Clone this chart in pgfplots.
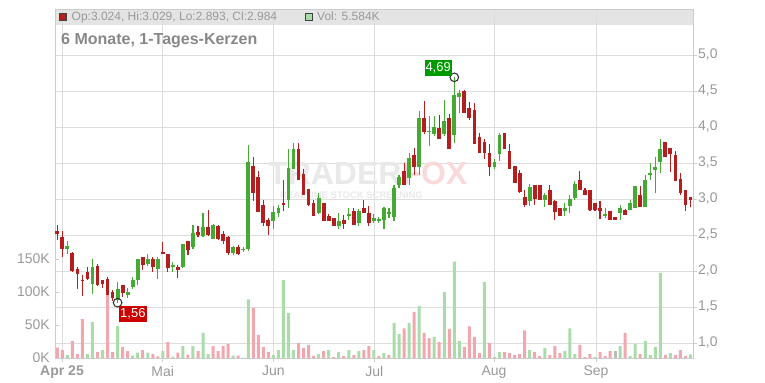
\documentclass[border=0pt]{standalone}
\usepackage{pgfplots}
\usepackage{pgfplotstable}
\pgfplotsset{compat=1.18}
\usepackage{fontspec}
\setmainfont{Liberation Sans}
\definecolor{cred}{HTML}{B41E1E}
\definecolor{cgreen}{HTML}{44AA33}
\definecolor{vred}{HTML}{F2A7AF}
\definecolor{vgreen}{HTML}{A9DCA9}
\definecolor{vgray}{HTML}{BBBBBB}
\definecolor{gridc}{HTML}{DDDDDD}
\definecolor{framec}{HTML}{CCCCCC}
\definecolor{labc}{HTML}{999999}
\definecolor{titlec}{HTML}{888888}
\definecolor{hdr}{HTML}{E4E4E4}
\definecolor{wm}{HTML}{E9E9E9}
\definecolor{wmr}{HTML}{F8DADA}
\definecolor{boxg}{HTML}{009A00}
\definecolor{boxr}{HTML}{CC0000}

\pgfplotstableread{
idx open high low close vol vc
0 2.56 2.64 2.43 2.52 15.6 0
1 2.47 2.56 2.20 2.31 12 0
2 2.30 2.41 2.23 2.35 4.5 1
3 2.25 2.26 1.99 2.00 25.7 0
4 2.03 2.05 1.75 1.96 6 0
5 1.88 1.95 1.65 1.86 59 0
6 1.98 2.06 1.88 1.89 6 1
7 1.82 2.16 1.68 2.05 54.5 1
8 2.07 2.10 1.79 1.81 9 0
9 1.87 1.88 1.76 1.82 12 1
10 1.89 1.92 1.66 1.67 95.5 0
11 1.71 1.73 1.59 1.63 9 0
12 1.60 1.85 1.56 1.75 48.5 1
13 1.81 1.81 1.64 1.70 16.7 0
14 1.66 1.76 1.62 1.71 10.6 0
15 1.78 1.92 1.75 1.87 3.5 1
16 1.87 2.16 1.80 2.16 8 1
17 2.20 2.20 2.01 2.08 12 0
18 2.10 2.24 2.07 2.16 8 1
19 2.17 2.19 1.98 2.06 6 0
20 2.03 2.20 1.89 2.16 2.5 0
21 2.26 2.40 2.23 2.23 10.6 1
22 2.24 2.24 1.99 2.04 24 0
23 2.06 2.12 1.99 2.09 2 1
24 2.06 2.09 1.90 2.02 8 0
25 2.06 2.38 2.04 2.38 18 1
26 2.41 2.42 2.22 2.29 5 0
27 2.34 2.64 2.31 2.53 18 1
28 2.54 2.63 2.47 2.50 10.6 0
29 2.48 2.81 2.47 2.61 38 1
30 2.61 2.85 2.49 2.50 6 1
31 2.44 2.65 2.44 2.64 18 0
32 2.62 2.64 2.43 2.44 10.6 0
33 2.52 2.55 2.38 2.42 18 0
34 2.47 2.48 2.22 2.25 21 0
35 2.25 2.35 2.22 2.33 3.5 1
36 2.33 2.36 2.22 2.24 3.5 0
37 2.29 2.33 2.27 2.31 0.7 1
38 2.31 3.755 2.28 3.52 89 1
39 3.46 3.59 2.97 3.09 76 0
40 3.30 3.39 2.82 2.82 35 0
41 2.91 2.98 2.63 2.66 16.7 0
42 2.71 2.74 2.50 2.63 9 0
43 2.70 2.90 2.59 2.82 4.5 1
44 2.80 2.92 2.75 2.87 12 1
45 2.95 3.27 2.83 2.92 118 1
46 2.99 3.69 2.88 3.43 68 1
47 3.41 3.78 3.41 3.69 12 1
48 3.69 3.78 3.26 3.27 23 0
49 3.35 3.41 3.06 3.06 15 0
50 3.14 3.14 2.90 2.92 20 0
51 2.94 2.99 2.77 2.77 3 0
52 2.80 3.08 2.79 3.01 6 1
53 2.94 2.94 2.69 2.70 10.6 0
54 2.77 2.79 2.69 2.70 12 1
55 2.73 2.73 2.62 2.62 1.5 0
56 2.62 2.80 2.59 2.70 9 1
57 2.71 2.78 2.59 2.65 3 0
58 2.76 2.88 2.71 2.79 12 1
59 2.84 2.88 2.64 2.64 4.5 0
60 2.66 2.86 2.63 2.84 10.6 1
61 2.88 2.99 2.80 2.80 12 0
62 2.80 2.90 2.62 2.66 18 0
63 2.69 2.79 2.66 2.73 12 1
64 2.70 2.75 2.67 2.72 3 0
65 2.71 2.89 2.59 2.88 7.5 1
66 2.80 2.87 2.73 2.82 4.5 0
67 2.75 3.20 2.70 3.15 53 1
68 3.20 3.33 3.15 3.31 36 1
69 3.39 3.50 3.19 3.20 45 0
70 3.29 3.64 3.20 3.57 53 1
71 3.61 3.71 3.34 3.44 70 0
72 3.44 4.22 3.34 4.12 79 1
73 4.13 4.36 3.90 3.93 38 0
74 3.93 4.15 3.74 3.95 30 0
75 3.90 4.15 3.88 4.00 32 1
76 3.98 4.16 3.84 3.84 24 0
77 3.90 4.38 3.88 4.09 100 1
78 4.12 4.18 3.69 3.69 44 0
79 3.89 4.69 3.78 4.44 146 1
80 4.41 4.51 4.20 4.47 26 1
81 4.50 4.51 4.20 4.20 16.7 0
82 4.27 4.35 4.10 4.13 48 0
83 4.23 4.34 3.76 3.77 32 0
84 3.86 3.92 3.64 3.64 7.5 0
85 3.79 3.83 3.55 3.64 115 1
86 3.64 3.76 3.32 3.44 23 0
87 3.44 3.55 3.41 3.52 1.5 1
88 3.62 3.92 3.53 3.89 9 1
89 3.91 3.92 3.69 3.70 9 0
90 3.67 3.76 3.41 3.42 7.5 0
91 3.46 3.46 3.22 3.22 4.5 0
92 3.36 3.40 3.09 3.10 6 0
93 3.03 3.13 2.89 2.91 42 0
94 2.97 3.21 2.90 3.17 12 1
95 3.20 3.20 2.91 3.00 9 0
96 3.20 3.20 2.98 2.98 3 0
97 2.98 3.09 2.89 3.06 15 1
98 3.13 3.19 2.91 2.91 4.5 0
99 2.97 2.98 2.71 2.82 18 0
100 2.87 2.87 2.76 2.76 7.5 0
101 2.83 2.94 2.76 2.88 10.6 1
102 2.90 3.06 2.81 3.00 45 1
103 3.01 3.25 2.98 3.21 6 1
104 3.26 3.39 3.12 3.12 20 0
105 3.13 3.15 3.06 3.06 1.5 0
106 3.13 3.13 2.84 2.85 6 0
107 2.94 2.94 2.83 2.85 1.5 1
108 2.87 2.97 2.72 2.84 9 0
109 2.77 2.87 2.74 2.79 3 0
110 2.83 2.83 2.71 2.71 10.6 0
111 2.75 2.75 2.71 2.71 10.6 2
112 2.80 2.91 2.71 2.87 18 1
113 2.85 2.86 2.78 2.78 38 0
114 2.85 2.98 2.85 2.94 3 1
115 2.87 3.18 2.87 3.18 21 1
116 3.05 3.18 2.89 2.89 6 0
117 2.89 3.33 2.89 3.26 26 1
118 3.34 3.50 3.26 3.36 4.5 1
119 3.40 3.59 3.08 3.44 16.7 1
120 3.51 3.84 3.36 3.70 129 1
121 3.79 3.79 3.59 3.59 4.5 0
122 3.71 3.71 3.38 3.63 7.5 1
123 3.61 3.67 3.25 3.25 4.5 0
124 3.28 3.36 3.05 3.08 12 0
125 3.12 3.12 2.84 2.92 3 0
126 3.024 3.029 2.893 2.984 5.584 1
}\data

\pgfplotsset{base/.style={scale only axis, width=638bp, height=349bp,
  at={(55bp,25bp)}, anchor=south west, xmin=-0.458, xmax=126.5}}

\begin{document}
\begin{tikzpicture}
\path (0bp,0bp) rectangle (765bp,383bp);
\fill[hdr] (55bp,358bp) rectangle (693bp,374bp);

% price axis: frame, grid, right ticks, month ticks
\begin{axis}[base, ymin=0.7917, ymax=5.6389,
  axis line style={draw=framec, line width=0.8bp},
  grid=major, grid style={draw=gridc, line width=0.8bp},
  xtick={0.94,20.97,42.99,63.08,86.9,107.2},
  xticklabels={{\bfseries Apr 25},Mai,Jun,Jul,Aug,Sep},
  ytick={1,1.5,2,2.5,3,3.5,4,4.5,5},
  yticklabels={{1,0},{1,5},{2,0},{2,5},{3,0},{3,5},{4,0},{4,5},{5,0}},
  xtick pos=bottom, ytick pos=right, yticklabel pos=right,
  tick align=outside, major tick length=4bp,
  tick style={draw=framec, line width=0.8bp},
  tick label style={text=labc, font=\fontsize{14bp}{16bp}\selectfont},
  yticklabel style={inner sep=0pt, xshift=1bp},
  xticklabel style={inner sep=0pt, yshift=-4bp},
]
\end{axis}

% header texts
\fill[cred, draw=black!75, line width=0.6bp] (59.5bp,362.5bp) rectangle (66.5bp,369.5bp);
\node[anchor=base west, inner sep=0, text=labc, font=\fontsize{12bp}{14bp}\selectfont] at (71.5bp,362.5bp) {Op:3.024, Hi:3.029, Lo:2.893, Cl:2.984};
\fill[vgreen, draw=black!75, line width=0.6bp] (305bp,362.5bp) rectangle (312bp,369.5bp);
\node[anchor=base west, inner sep=0, text=labc, font=\fontsize{12bp}{14bp}\selectfont] at (317bp,362.5bp) {Vol: 5.584K};
\node[anchor=base west, inner sep=0, text=titlec, font=\bfseries\fontsize{16bp}{18bp}\selectfont] at (61bp,338bp) {6 Monate, 1-Tages-Kerzen};

% watermark
\node[anchor=base west, inner sep=0, text=wm, font=\bfseries\fontsize{32bp}{32bp}\selectfont] at (268bp,198bp) {TRADER\textcolor{wmr}{FOX}};
\node[anchor=base west, inner sep=0, text=wm, font=\bfseries\fontsize{9.5bp}{10bp}\selectfont] at (280bp,184.5bp) {REALTIME STOCK SCREENING};

% volume axis
\begin{axis}[base, ymin=0, ymax=528.8, axis line style={draw=none},
  xtick=\empty, ytick={0,50,100,150}, yticklabels={0K,50K,100K,150K},
  ytick pos=left, tick align=inside, major tick length=4bp,
  tick style={draw=framec, line width=0.8bp},
  tick label style={text=labc, font=\fontsize{14bp}{16bp}\selectfont},
  yticklabel style={inner sep=0pt, xshift=-5bp}]
\addplot[ybar, bar width=3bp, bar shift=0pt, fill=vgreen, draw=none,
  restrict expr to domain={\thisrow{vc}}{0.5:1.5}] table[x=idx,y=vol]{\data};
\addplot[ybar, bar width=3bp, bar shift=0pt, fill=vred, draw=none,
  restrict expr to domain={\thisrow{vc}}{-0.5:0.5}] table[x=idx,y=vol]{\data};
\addplot[ybar, bar width=3bp, bar shift=0pt, fill=vgray, draw=none,
  restrict expr to domain={\thisrow{vc}}{1.5:2.5}] table[x=idx,y=vol]{\data};
\end{axis}

% candles
\begin{axis}[base, ymin=0.7917, ymax=5.6389, hide axis, clip=false]
\addplot[draw=none, mark=none,
  restrict expr to domain={\thisrow{close}-\thisrow{open}}{-10:-0.0001},
  error bars/.cd, y dir=both, y explicit, error mark=none,
  error bar style={draw=cred, line width=1.1bp}]
  table[x=idx, y expr={(\thisrow{high}+\thisrow{low})/2}, y error expr={(\thisrow{high}-\thisrow{low})/2}]{\data};
\addplot[draw=none, mark=none,
  restrict expr to domain={\thisrow{close}-\thisrow{open}}{0:10},
  error bars/.cd, y dir=both, y explicit, error mark=none,
  error bar style={draw=cgreen, line width=1.1bp}]
  table[x=idx, y expr={(\thisrow{high}+\thisrow{low})/2}, y error expr={(\thisrow{high}-\thisrow{low})/2}]{\data};
\addplot[draw=none, mark=none,
  restrict expr to domain={\thisrow{close}-\thisrow{open}}{-10:-0.0001},
  error bars/.cd, y dir=both, y explicit, error mark=none,
  error bar style={draw=cred, line width=3.8bp}]
  table[x=idx, y expr={(\thisrow{open}+\thisrow{close})/2}, y error expr={abs(\thisrow{close}-\thisrow{open})/2}]{\data};
\addplot[draw=none, mark=none,
  restrict expr to domain={\thisrow{close}-\thisrow{open}}{0:10},
  error bars/.cd, y dir=both, y explicit, error mark=none,
  error bar style={draw=cgreen, line width=3.8bp}]
  table[x=idx, y expr={(\thisrow{open}+\thisrow{close})/2}, y error expr={abs(\thisrow{close}-\thisrow{open})/2}]{\data};
% extreme markers
\draw[black!80, line width=1.1bp] (axis cs:79,4.69) circle[radius=4.3bp];
\node[fill=boxg, text=white, anchor=south east, inner xsep=1bp, inner ysep=2bp,
  text height=9.5bp, text depth=2.5bp, font=\fontsize{13bp}{15bp}\selectfont]
  at ([shift={(-2.3bp,1.3bp)}]axis cs:79,4.69) {4,69};
\draw[black!80, line width=1.1bp] (axis cs:12,1.56) circle[radius=4.3bp];
\node[fill=boxr, text=white, anchor=north west, inner xsep=1bp, inner ysep=2bp,
  text height=9.5bp, text depth=2.5bp, font=\fontsize{13bp}{15bp}\selectfont]
  at ([shift={(1.4bp,-3.3bp)}]axis cs:12,1.56) {1,56};
\end{axis}
\pgfresetboundingbox
\path (0bp,0bp) rectangle (765bp,383bp);
\end{tikzpicture}
\end{document}
